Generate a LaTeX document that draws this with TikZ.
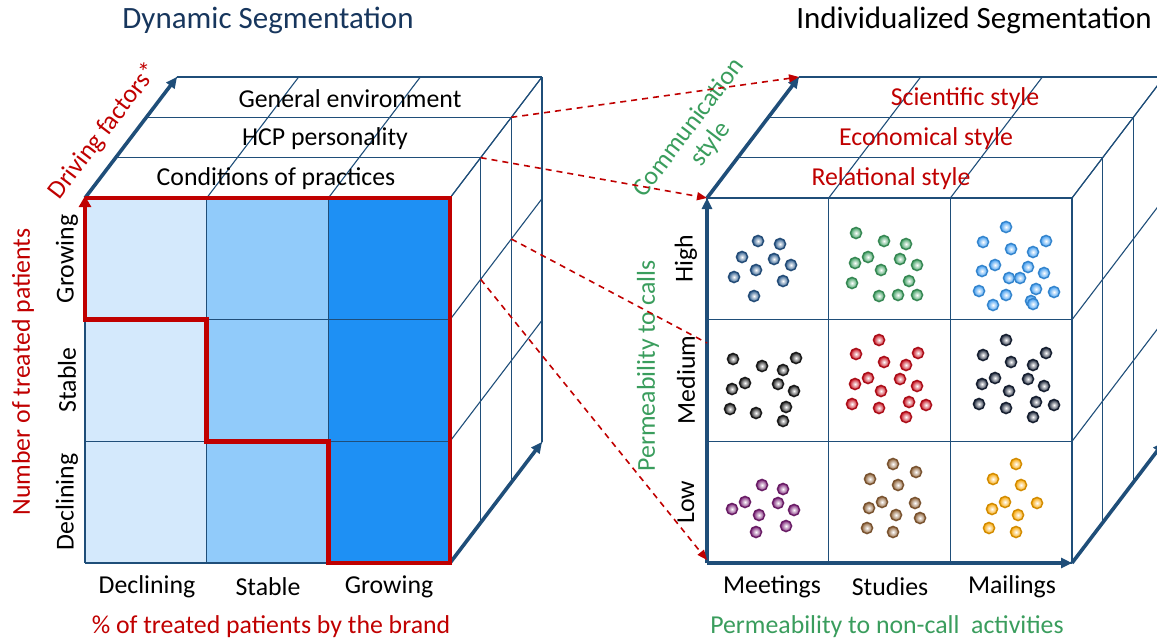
\documentclass[tikz,border=0pt]{standalone}
\usepackage{fontspec}
\setmainfont{Carlito}
\usetikzlibrary{arrows.meta}

\definecolor{cubeline}{HTML}{1F4E79}
\definecolor{axisred}{HTML}{C00000}
\definecolor{axisgreen}{HTML}{3A9D5D}
\definecolor{titleblue}{HTML}{17365D}
\definecolor{lowblue}{HTML}{D4E9FC}
\definecolor{midblue}{HTML}{91CBFA}
\definecolor{highblue}{HTML}{1E90F4}
\definecolor{dotnavy}{HTML}{2A5A8C}
\definecolor{dotgreen}{HTML}{3F9F62}
\definecolor{dotsky}{HTML}{3D9BF0}
\definecolor{dotblack}{HTML}{1E1E1E}
\definecolor{dotred}{HTML}{C8101E}
\definecolor{dotink}{HTML}{1A2438}
\definecolor{dotpurple}{HTML}{7B2277}
\definecolor{dotbrown}{HTML}{8E6238}
\definecolor{dotorange}{HTML}{F7A400}

% thin wire frame of a cube, front face 365 wide, depth (92,-121)
\newcommand{\cubeframe}{
  \foreach \i in {0,1,2,3} {
    \draw[grid] (\i*121.67,0) -- (\i*121.67,365);
    \draw[grid] (0,\i*121.67) -- (365,\i*121.67);
    \draw[grid] (\i*121.67,0) -- ++(92,-121);
    \draw[grid] (365,\i*121.67) -- ++(92,-121);
  }
  \foreach \k in {1,2,3} {
    \draw[grid] (\k*30.67,-\k*40.33) -- ++(365,0);
    \draw[grid] (365+\k*30.67,-\k*40.33) -- ++(0,365);
  }
}

\begin{document}
\begin{tikzpicture}[x=1pt, y=-1pt,
  grid/.style={cubeline, line width=1.1pt},
  axis/.style={cubeline, line width=3.6pt, -{Triangle[length=11pt,width=10pt]}},
  link/.style={axisred, line width=1.6pt, dash pattern=on 6pt off 5pt, -{Triangle[length=10pt,width=8pt]}},
  label/.style={font=\fontsize{25.8}{27}\selectfont, inner sep=0pt},
  title/.style={font=\fontsize{31}{34}\selectfont, inner sep=0pt},
  dot/.style={inner color=white, outer color=#1, draw=#1!85!black, line width=1.4pt}]
\useasboundingbox (0,0) rectangle (1157,643);
\clip (0,0) rectangle (1157,643);

\node (title-l) [title, titleblue] at (268,20) {Dynamic Segmentation};
\node (title-r) [title] at (974,20) {Individualized Segmentation};

% left cube
\begin{scope}[shift={(85,198)}]
  \fill[lowblue] (0,0) rectangle (121.67,365);
  \fill[midblue] (121.67,0) rectangle (243.33,365);
  \fill[highblue] (243.33,0) rectangle (365,365);
  \cubeframe
  \coordinate (L-o) at (0,0);
  \coordinate (L-back) at (92,-121);
  \coordinate (L-br) at (365,365);
  \coordinate (L-brback) at (457,244);
  \coordinate (L-a) at (426.33,-80.67);
  \coordinate (L-b) at (395.67,-40.33);
  \coordinate (L-c) at (426.33,41);
  \coordinate (L-d) at (395.67,81.33);
  \draw[axis] (L-o) -- (L-back);
  \draw[axis] (L-br) -- (L-brback);
  % staircase of the brand growth
  \draw[axisred, line width=4.5pt, line join=miter, -{Triangle[length=11pt,width=12pt]}]
    (0,0) -- (365,0) -- (365,365) -- (243.33,365) -- (243.33,243.33) -- (121.67,243.33)
    -- (121.67,121.67) -- (0,121.67) -- (0,-2);
\end{scope}

\node (env) [label] at (350,99) {General environment};
\node (hcp) [label] at (325,139) {HCP personality};
\node (cond) [label] at (276,179) {Conditions of practices};
\node (drive) [label, axisred, rotate=52.75] at (104,131) {Driving factors*};
\node (patients) [label, axisred, rotate=90] at (23,372) {Number of treated patients};
\node (row-g) [label, rotate=90] at (67,259) {Growing};
\node (row-s) [label, rotate=90] at (67,380) {Stable};
\node (row-d) [label, rotate=90] at (67,502) {Declining};
\node (col-d) [label] at (147,587) {Declining};
\node (col-s) [label] at (268,587) {Stable};
\node (col-g) [label] at (389,587) {Growing};
\node (brand) [label, axisred] at (271,627) {\% of treated patients by the brand};

% right cube
\begin{scope}[shift={(707,198)}]
  \cubeframe
  \coordinate (R-o) at (0,0);
  \coordinate (R-back) at (92,-121);
  \coordinate (R-bl) at (0,365);
  \coordinate (R-br) at (365,365);
  \coordinate (R-brback) at (457,244);
  \coordinate (R-mid) at (0,145);
  \coordinate (R-low) at (0,362);
  \draw[axis] (R-o) -- (R-back);
  \draw[axis] (R-bl) -- (R-o);
  \draw[axis] (R-bl) -- (R-br);
  \draw[axis] (R-br) -- (R-brback);
\end{scope}

\node (sci) [label, axisred] at (965,99) {Scientific style};
\node (eco) [label, axisred] at (926,139) {Economical style};
\node (rel) [label, axisred] at (891,179) {Relational style};
\node (comm) [label, axisgreen, align=center, rotate=52.75] at (700,136) {Communication\\style};
\node (calls) [label, axisgreen, rotate=90] at (648,366) {Permeability to calls};
\node (row-h) [label, rotate=90] at (686,259) {High};
\node (row-m) [label, rotate=90] at (686,380) {Medium};
\node (row-lo) [label, rotate=90] at (686,502) {Low};
\node (col-me) [label] at (772,587) {Meetings};
\node (col-st) [label] at (890,587) {Studies};
\node (col-ma) [label] at (1012,587) {Mailings};
\node (noncall) [label, axisgreen] at (887,627) {Permeability to non-call~ activities};

% links between the two cubes
\draw[link] (L-a) -- (R-back);
\draw[link] (L-b) -- (R-o);
\draw[link, -] (L-c) -- (R-mid);
\draw[link] (L-d) -- (R-low);

% HCP clouds
\foreach \x/\y in {758/241,780/244,742/257,774/259,791/265,756/270,734/277,783/281,754/296}
  \path[dot=dotnavy] (\x,\y) circle (5.6);
\foreach \x/\y in {856/233,884/241,906/244,868/257,900/259,855/263,917/265,881/270,909/281,852/283,879/296,898/295,917/295}
  \path[dot=dotgreen] (\x,\y) circle (5.6);
\foreach \x/\y in {1006/227,983/242,1046/241,1011/249,1033/252,995/265,1028/267,982/271,1044/273,1009/278,1020/278,979/291,1036/289,1054/292,1006/295,1031/301,1033/304,993/305}
  \path[dot=dotsky] (\x,\y) circle (5.6);
\foreach \x/\y in {733/359,762/366,796/358,783/370,745/383,732/389,778/384,794/391,730/409,756/413,786/407,783/421}
  \path[dot=dotblack] (\x,\y) circle (5.6);
\foreach \x/\y in {879/340,856/354,918/353,884/362,906/365,868/378,900/379,855/384,917/386,881/391,852/404,909/402,926/405,879/408,906/417}
  \path[dot=dotred] (\x,\y) circle (5.6);
\foreach \x/\y in {1006/340,983/355,1046/353,1011/362,1033/365,995/378,1028/379,982/384,1044/386,1009/391,979/404,1036/402,1054/405,1006/408,1033/417}
  \path[dot=dotink] (\x,\y) circle (5.6);
\foreach \x/\y in {762/485,783/489,745/502,732/509,778/503,794/510,759/515,786/526,756/532}
  \path[dot=dotpurple] (\x,\y) circle (5.6);
\foreach \x/\y in {893/464,916/472,870/479,898/485,882/502,915/503,869/508,896/515,920/518,867/528,893/532}
  \path[dot=dotbrown] (\x,\y) circle (5.6);
\foreach \x/\y in {1016/464,993/479,1021/485,1005/502,1037/503,992/509,1018/515,989/528,1016/532}
  \path[dot=dotorange] (\x,\y) circle (5.6);
\end{tikzpicture}
\end{document}
